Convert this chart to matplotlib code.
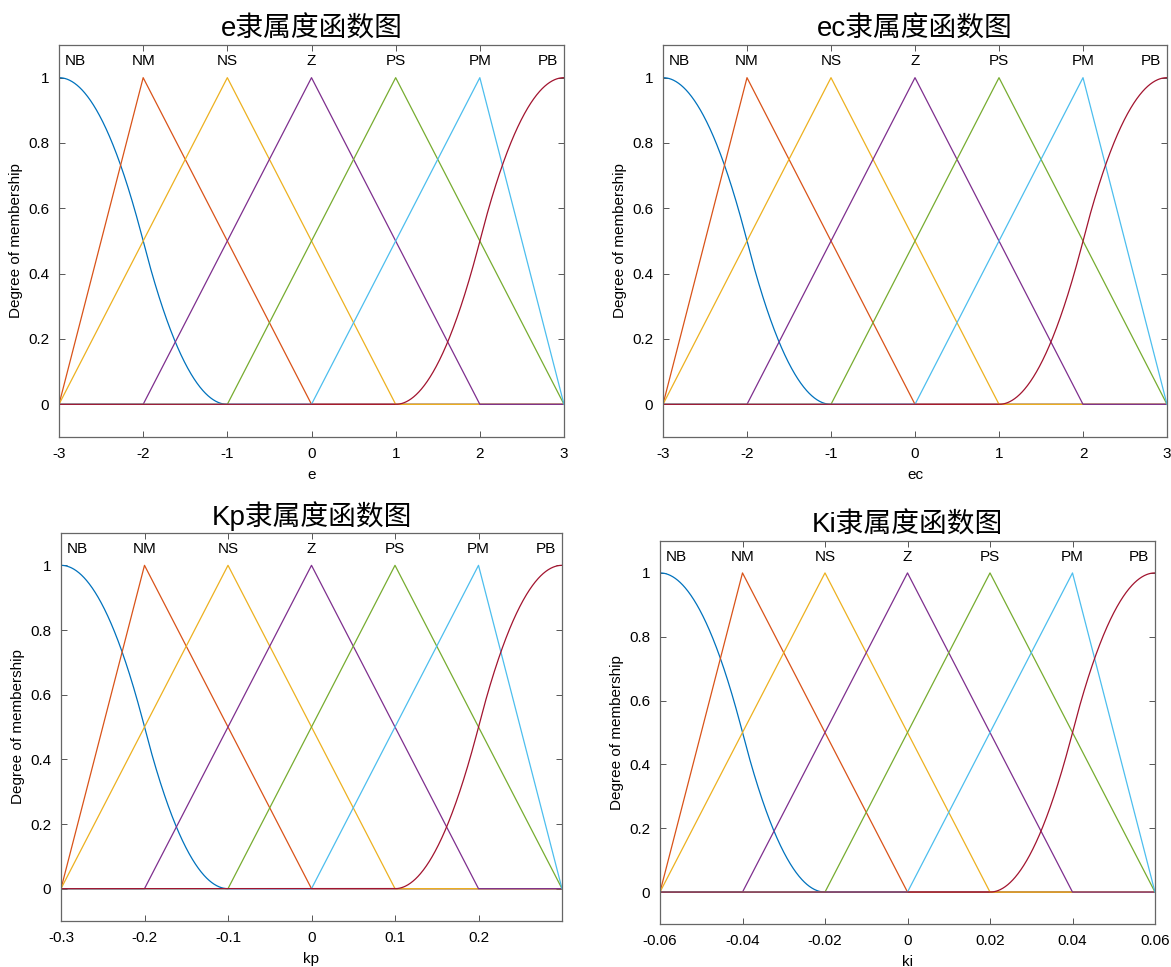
import numpy as np
import matplotlib.pyplot as plt

plt.switch_backend('agg')
plt.rcParams['font.family'] = ['Liberation Sans', 'Noto Sans CJK SC', 'DejaVu Sans']

# membership function names and MATLAB default colours
mf_names = ['NB', 'NM', 'NS', 'Z', 'PS', 'PM', 'PB']
mf_colors = ['#0072BD', '#D95319', '#EDB120', '#7E2F8E', '#77AC30', '#4DBEEE', '#A2142F']

# normalised parameters on the e / ec universe [-3, 3]
nb_params = [-3, -1]          # zmf
nm_params = [-3, -2, 0]       # trimf
ns_params = [-3, -1, 1]
z_params = [-2, 0, 2]
ps_params = [-1, 1, 3]
pm_params = [0, 2, 3]
pb_params = [1, 3]            # smf
peaks = [-3, -2, -1, 0, 1, 2, 3]

titles = ['e隶属度函数图', 'ec隶属度函数图', 'Kp隶属度函数图', 'Ki隶属度函数图']
xlabels = ['e', 'ec', 'kp', 'ki']
scales = [1, 1, 0.1, 0.02]
xticks_list = [[-3, -2, -1, 0, 1, 2, 3],
               [-3, -2, -1, 0, 1, 2, 3],
               [-0.3, -0.2, -0.1, 0, 0.1, 0.2],
               [-0.06, -0.04, -0.02, 0, 0.02, 0.04, 0.06]]
xtick_labels = [['-3', '-2', '-1', '0', '1', '2', '3'],
                ['-3', '-2', '-1', '0', '1', '2', '3'],
                ['-0.3', '-0.2', '-0.1', '0', '0.1', '0.2'],
                ['-0.06', '-0.04', '-0.02', '0', '0.02', '0.04', '0.06']]

# axes rectangles in pixels (left, top, right, bottom)
W, H = 1171, 967
rects = [(59, 45, 564, 437), (663, 45, 1167, 437),
         (61, 533, 562, 921), (660, 541, 1155, 924)]


def zmf(x, a, b):
    m = (a + b) / 2
    y = np.where(x <= a, 1.0, 0.0)
    y = np.where((x > a) & (x <= m), 1 - 2 * ((x - a) / (b - a)) ** 2, y)
    y = np.where((x > m) & (x < b), 2 * ((x - b) / (b - a)) ** 2, y)
    return y


def smf(x, a, b):
    return 1 - zmf(x, a, b)


def trimf(x, a, b, c):
    return np.maximum(np.minimum((x - a) / (b - a), (c - x) / (c - b)), 0)


fig = plt.figure(figsize=(W / 100, H / 100), dpi=100)

for k in range(4):
    l, t, r, b = rects[k]
    ax = fig.add_axes([l / W, 1 - b / H, (r - l) / W, (b - t) / H])
    s = scales[k]
    x = np.linspace(-3, 3, 1201) * s
    u = x / s
    curves = [zmf(u, *nb_params), trimf(u, *nm_params), trimf(u, *ns_params),
              trimf(u, *z_params), trimf(u, *ps_params), trimf(u, *pm_params),
              smf(u, *pb_params)]
    for y, c in zip(curves, mf_colors):
        ax.plot(x, y, color=c, linewidth=0.9)
    for name, p in zip(mf_names, peaks):
        if p == -3:
            ax.annotate(name, (p * s, 1.05), xytext=(4, 0), textcoords='offset points',
                        ha='left', va='center', fontsize=11)
        elif p == 3:
            ax.annotate(name, (p * s, 1.05), xytext=(-4, 0), textcoords='offset points',
                        ha='right', va='center', fontsize=11)
        else:
            ax.text(p * s, 1.05, name, ha='center', va='center', fontsize=11)
    ax.set_xlim(-3 * s, 3 * s)
    ax.set_ylim(-0.1, 1.1)
    ax.set_xticks(xticks_list[k])
    ax.set_xticklabels(xtick_labels[k])
    ax.set_yticks([0, 0.2, 0.4, 0.6, 0.8, 1])
    ax.set_yticklabels(['0', '0.2', '0.4', '0.6', '0.8', '1'])
    ax.tick_params(direction='in', top=True, right=True, labelsize=11,
                   length=4, width=0.7, color='#555555', pad=7)
    for sp in ax.spines.values():
        sp.set_color('#666666')
        sp.set_linewidth(0.9)
    ax.set_xlabel(xlabels[k], fontsize=11, labelpad=5)
    ax.set_ylabel('Degree of membership', fontsize=11, labelpad=4)
    ax.set_title(titles[k], fontsize=20, pad=6)

plt.savefig('out.png')
